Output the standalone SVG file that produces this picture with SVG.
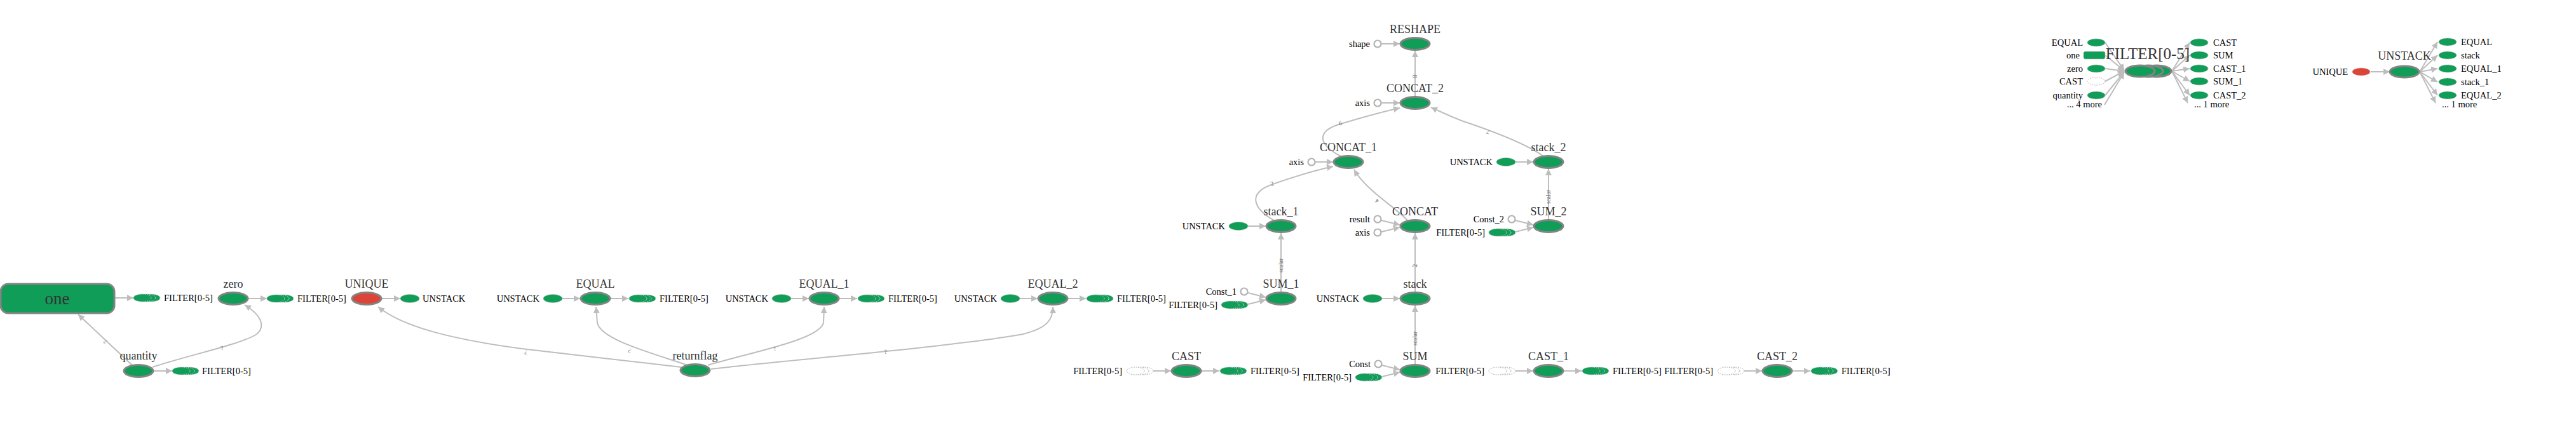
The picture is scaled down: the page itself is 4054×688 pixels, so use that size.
<svg xmlns="http://www.w3.org/2000/svg" xmlns:xlink="http://www.w3.org/1999/xlink" width="4054" height="688" viewBox="0 0 4054 688">
<style>
.op{fill:#0f9d58;stroke:#848484;stroke-width:3}
.red{fill:#db4437}
.at{fill:#0f9d58;stroke:#bdbdbd;stroke-width:1;stroke-dasharray:2 1.5}
.atr{fill:#db4437;stroke:#bdbdbd;stroke-width:1;stroke-dasharray:2 1.5}
.atw{fill:#fff;stroke:#b5b5b5;stroke-width:1;stroke-dasharray:2 1.5}
.cst{fill:#fff;stroke:#b3b3b3;stroke-width:2.2}
.e{fill:none;stroke:#bdbdbd;stroke-width:2;marker-end:url(#ah)}
text{font-family:"Liberation Serif","Times New Roman",serif}
.nl{font-size:18px;fill:#333;text-anchor:middle}
.sl{font-size:14.5px;fill:#000}
.r{text-anchor:end}
.el{font-size:9.5px;fill:#666;text-anchor:middle}
</style>
<defs>
<marker id="ah" viewBox="0 0 10 10" refX="10" refY="5" markerWidth="10" markerHeight="10" markerUnits="userSpaceOnUse" orient="auto"><path d="M0,0 L10,5 L0,10 z" fill="#bdbdbd"/></marker>
<g id="stk"><ellipse cx="14" cy="0" rx="14" ry="6" fill="#0f9d58" stroke="#d0d0d0" stroke-width="1" stroke-dasharray="2 1.5"/><ellipse cx="7" cy="0" rx="14" ry="6" fill="#0f9d58" stroke="#d0d0d0" stroke-width="1" stroke-dasharray="2 1.5"/><ellipse cx="0" cy="0" rx="14" ry="6" fill="#0f9d58" stroke="#bdbdbd" stroke-width="1" stroke-dasharray="2 1.5"/></g>
<g id="stkw"><ellipse cx="14" cy="0" rx="14" ry="6" fill="#fff" stroke="#b5b5b5" stroke-width="1" stroke-dasharray="2 1.5"/><ellipse cx="7" cy="0" rx="14" ry="6" fill="#fff" stroke="#b5b5b5" stroke-width="1" stroke-dasharray="2 1.5"/><ellipse cx="0" cy="0" rx="14" ry="6" fill="#fff" stroke="#b5b5b5" stroke-width="1" stroke-dasharray="2 1.5"/></g>
</defs>
<rect width="4054" height="688" fill="#fff"/>

<g id="connectors">
<path class="e" d="M181,469 L210,469"/>
<path class="e" d="M391,470 L420,470"/>
<path class="e" d="M601,470 L630,470"/>
<path class="e" d="M242,584 L271,584"/>
<path class="e" d="M208,575 L123,495"/>
<path class="e" d="M240,578 C300,558 380,542 404,526 C420,512 408,494 385,480"/>
<path class="e" d="M1072,578 C1000,570 900,558 830,550 C720,536 635,516 595,483"/>
<path class="e" d="M1082,575 C1030,557 945,535 940,508 L938,483"/>
<path class="e" d="M1114,575 C1180,555 1290,535 1296,508 L1297,483"/>
<path class="e" d="M1119,581 C1250,566 1500,546 1610,526 C1650,516 1657,502 1657,483"/>
<path class="e" d="M885,470 L913,470"/>
<path class="e" d="M961,470 L989,470"/>
<path class="e" d="M1245,470 L1273,470"/>
<path class="e" d="M1321,470 L1349,470"/>
<path class="e" d="M1605,470 L1633,470"/>
<path class="e" d="M1681,470 L1709,470"/>
<path class="e" d="M1815,584 L1843,584"/>
<path class="e" d="M1891,584 L1919,584"/>
<path class="e" d="M2385,584 L2413,584"/>
<path class="e" d="M2461,584 L2489,584"/>
<path class="e" d="M2745,584 L2773,584"/>
<path class="e" d="M2821,584 L2849,584"/>
<path class="e" d="M2175,575 L2203,582"/>
<path class="e" d="M2175,593 L2203,586"/>
<path class="e" d="M1964,461 L1992,468"/>
<path class="e" d="M1964,479 L1992,472"/>
<path class="e" d="M2385,347 L2413,354"/>
<path class="e" d="M2385,365 L2413,358"/>
<path class="e" d="M2174,347 L2203,354"/>
<path class="e" d="M2174,365 L2203,358"/>
<path class="e" d="M1964,356 L1992,356"/>
<path class="e" d="M2175,470 L2203,470"/>
<path class="e" d="M2385,255 L2413,255"/>
<path class="e" d="M2070,255 L2098,255"/>
<path class="e" d="M2174,162 L2203,162"/>
<path class="e" d="M2174,69 L2203,69"/>
<path class="e" d="M2016,460 L2016,367"/>
<path class="e" d="M2227,574 L2227,481"/>
<path class="e" d="M2227,460 L2227,367"/>
<path class="e" d="M2437,346 L2437,266"/>
<path class="e" d="M2227,152 L2227,80"/>
<path class="e" d="M2005,347 C1975,330 1960,305 2003,290 C2040,277 2070,268 2098,262"/>
<path class="e" d="M2215,347 C2195,325 2150,300 2131,267"/>
<path class="e" d="M2110,246 C2070,225 2075,205 2110,195 C2150,183 2180,175 2203,170"/>
<path class="e" d="M2429,246 C2400,225 2345,205 2300,190 C2280,182 2265,175 2252,169"/>
<path class="e" d="M3313,67 L3343,111"/>
<path class="e" d="M3313,87 L3343,111"/>
<path class="e" d="M3313,108 L3343,112"/>
<path class="e" d="M3313,128 L3343,112"/>
<path class="e" d="M3313,150 L3343,113"/>
<path class="e" d="M3312,165 L3343,114"/>
<path class="e" d="M3418,112 L3446,67"/>
<path class="e" d="M3418,112 L3446,87"/>
<path class="e" d="M3418,112 L3446,108"/>
<path class="e" d="M3418,112 L3446,128"/>
<path class="e" d="M3418,112 L3446,150"/>
<path class="e" d="M3418,112 L3443,162"/>
<path class="e" d="M3731,113 L3761,113"/>
<path class="e" d="M3808,113 L3836,66"/>
<path class="e" d="M3808,113 L3836,87"/>
<path class="e" d="M3808,113 L3836,108"/>
<path class="e" d="M3808,113 L3836,129"/>
<path class="e" d="M3808,113 L3836,150"/>
<path class="e" d="M3808,113 L3833,162"/>
<text class="el" transform="translate(168,536) rotate(-137)">?</text>
<text class="el" transform="translate(350,551) rotate(-15)">?</text>
<text class="el" transform="translate(828,552) rotate(-173)">?</text>
<text class="el" transform="translate(992,549) rotate(-158)">?</text>
<text class="el" transform="translate(1220,552) rotate(-20)">?</text>
<text class="el" transform="translate(1394,557) rotate(-7)">?</text>
<text class="el" transform="translate(2019,418) rotate(-90)">scalar</text>
<text class="el" transform="translate(2230,533) rotate(-90)">scalar</text>
<text class="el" transform="translate(2230,418) rotate(-90)">2</text>
<text class="el" transform="translate(2440,310) rotate(-90)">scalar</text>
<text class="el" transform="translate(2230,120) rotate(-90)">8</text>
<text class="el" transform="translate(2003,292) rotate(-18)">2</text>
<text class="el" transform="translate(2169,314) rotate(-143)">4</text>
<text class="el" transform="translate(2110,197) rotate(-17)">6</text>
<text class="el" transform="translate(2343,205) rotate(-157)">7</text>
</g>

<g id="node-one"><rect x="1" y="447" width="179" height="46" rx="12" class="op"/><text x="90" y="479" font-size="27" fill="#333" text-anchor="middle">one</text></g>
<g id="node-one-out"><use xlink:href="#stk" x="224" y="469"/><text class="sl" x="258" y="474">FILTER[0-5]</text></g>
<g id="node-zero"><ellipse cx="367" cy="470" rx="23" ry="9.5" class="op"/><text class="nl" x="367" y="453">zero</text></g>
<g id="node-zero-out"><use xlink:href="#stk" x="434" y="470"/><text class="sl" x="468" y="475">FILTER[0-5]</text></g>
<g id="node-unique"><ellipse cx="577" cy="470" rx="23" ry="9.5" class="op red"/><text class="nl" x="577" y="453">UNIQUE</text></g>
<g id="node-unique-out"><ellipse cx="645" cy="470" rx="15" ry="6.5" class="at"/><text class="sl" x="665" y="475">UNSTACK</text></g>
<g id="node-quantity"><ellipse cx="218" cy="584" rx="23" ry="9.5" class="op"/><text class="nl" x="218" y="566">quantity</text></g>
<g id="node-quantity-out"><use xlink:href="#stk" x="285" y="584"/><text class="sl" x="318" y="589">FILTER[0-5]</text></g>
<g id="node-returnflag"><ellipse cx="1094" cy="583" rx="23" ry="9.5" class="op"/><text class="nl" x="1094" y="566">returnflag</text></g>

<g id="node-equal"><ellipse cx="937" cy="470" rx="23" ry="9.5" class="op"/><text class="nl" x="937" y="453">EQUAL</text></g>
<g id="node-equal-in"><ellipse cx="870" cy="470" rx="15" ry="6.5" class="at"/><text class="sl r" x="849" y="475">UNSTACK</text></g>
<g id="node-equal-out"><use xlink:href="#stk" x="1004" y="470"/><text class="sl" x="1038" y="475">FILTER[0-5]</text></g>
<g id="node-equal1"><ellipse cx="1297" cy="470" rx="23" ry="9.5" class="op"/><text class="nl" x="1297" y="453">EQUAL_1</text></g>
<g id="node-equal1-in"><ellipse cx="1230" cy="470" rx="15" ry="6.5" class="at"/><text class="sl r" x="1209" y="475">UNSTACK</text></g>
<g id="node-equal1-out"><use xlink:href="#stk" x="1364" y="470"/><text class="sl" x="1398" y="475">FILTER[0-5]</text></g>
<g id="node-equal2"><ellipse cx="1657" cy="470" rx="23" ry="9.5" class="op"/><text class="nl" x="1657" y="453">EQUAL_2</text></g>
<g id="node-equal2-in"><ellipse cx="1590" cy="470" rx="15" ry="6.5" class="at"/><text class="sl r" x="1569" y="475">UNSTACK</text></g>
<g id="node-equal2-out"><use xlink:href="#stk" x="1724" y="470"/><text class="sl" x="1758" y="475">FILTER[0-5]</text></g>

<g id="node-cast"><ellipse cx="1867" cy="584" rx="23" ry="9.5" class="op"/><text class="nl" x="1867" y="567">CAST</text></g>
<g id="node-cast-in"><use xlink:href="#stkw" x="1787" y="584"/><text class="sl r" x="1766" y="589">FILTER[0-5]</text></g>
<g id="node-cast-out"><use xlink:href="#stk" x="1934" y="584"/><text class="sl" x="1968" y="589">FILTER[0-5]</text></g>
<g id="node-sum"><ellipse cx="2227" cy="584" rx="23" ry="9.5" class="op"/><text class="nl" x="2227" y="567">SUM</text></g>
<g id="node-sum-const"><circle cx="2169" cy="573" r="5.5" class="cst"/><text class="sl r" x="2157" y="578">Const</text></g>
<g id="node-sum-in"><use xlink:href="#stk" x="2147" y="594"/><text class="sl r" x="2127" y="599">FILTER[0-5]</text></g>
<g id="node-cast1"><ellipse cx="2437" cy="584" rx="23" ry="9.5" class="op"/><text class="nl" x="2437" y="567">CAST_1</text></g>
<g id="node-cast1-in"><use xlink:href="#stkw" x="2357" y="584"/><text class="sl r" x="2336" y="589">FILTER[0-5]</text></g>
<g id="node-cast1-out"><use xlink:href="#stk" x="2504" y="584"/><text class="sl" x="2538" y="589">FILTER[0-5]</text></g>
<g id="node-cast2"><ellipse cx="2797" cy="584" rx="23" ry="9.5" class="op"/><text class="nl" x="2797" y="567">CAST_2</text></g>
<g id="node-cast2-in"><use xlink:href="#stkw" x="2717" y="584"/><text class="sl r" x="2696" y="589">FILTER[0-5]</text></g>
<g id="node-cast2-out"><use xlink:href="#stk" x="2864" y="584"/><text class="sl" x="2898" y="589">FILTER[0-5]</text></g>

<g id="node-sum1"><ellipse cx="2016" cy="470" rx="23" ry="9.5" class="op"/><text class="nl" x="2016" y="453">SUM_1</text></g>
<g id="node-sum1-const"><circle cx="1958" cy="459" r="5.5" class="cst"/><text class="sl r" x="1946" y="464">Const_1</text></g>
<g id="node-sum1-in"><use xlink:href="#stk" x="1936" y="480"/><text class="sl r" x="1916" y="485">FILTER[0-5]</text></g>
<g id="node-stack"><ellipse cx="2227" cy="470" rx="23" ry="9.5" class="op"/><text class="nl" x="2227" y="453">stack</text></g>
<g id="node-stack-in"><ellipse cx="2160" cy="470" rx="15" ry="6.5" class="at"/><text class="sl r" x="2139" y="475">UNSTACK</text></g>

<g id="node-stack1"><ellipse cx="2016" cy="356" rx="23" ry="9.5" class="op"/><text class="nl" x="2016" y="339">stack_1</text></g>
<g id="node-stack1-in"><ellipse cx="1949" cy="356" rx="15" ry="6.5" class="at"/><text class="sl r" x="1928" y="361">UNSTACK</text></g>
<g id="node-concat"><ellipse cx="2227" cy="356" rx="23" ry="9.5" class="op"/><text class="nl" x="2227" y="339">CONCAT</text></g>
<g id="node-concat-result"><circle cx="2168" cy="345" r="5.5" class="cst"/><text class="sl r" x="2156" y="350">result</text></g>
<g id="node-concat-axis"><circle cx="2168" cy="366" r="5.5" class="cst"/><text class="sl r" x="2156" y="371">axis</text></g>
<g id="node-sum2"><ellipse cx="2437" cy="356" rx="23" ry="9.5" class="op"/><text class="nl" x="2437" y="339">SUM_2</text></g>
<g id="node-sum2-const"><circle cx="2379" cy="345" r="5.5" class="cst"/><text class="sl r" x="2367" y="350">Const_2</text></g>
<g id="node-sum2-in"><use xlink:href="#stk" x="2357" y="366"/><text class="sl r" x="2337" y="371">FILTER[0-5]</text></g>

<g id="node-concat1"><ellipse cx="2122" cy="255" rx="23" ry="9.5" class="op"/><text class="nl" x="2122" y="238">CONCAT_1</text></g>
<g id="node-concat1-axis"><circle cx="2064" cy="255" r="5.5" class="cst"/><text class="sl r" x="2052" y="260">axis</text></g>
<g id="node-stack2"><ellipse cx="2437" cy="255" rx="23" ry="9.5" class="op"/><text class="nl" x="2437" y="238">stack_2</text></g>
<g id="node-stack2-in"><ellipse cx="2370" cy="255" rx="15" ry="6.5" class="at"/><text class="sl r" x="2349" y="260">UNSTACK</text></g>
<g id="node-concat2"><ellipse cx="2227" cy="162" rx="23" ry="9.5" class="op"/><text class="nl" x="2227" y="145">CONCAT_2</text></g>
<g id="node-concat2-axis"><circle cx="2168" cy="162" r="5.5" class="cst"/><text class="sl r" x="2156" y="167">axis</text></g>
<g id="node-reshape"><ellipse cx="2227" cy="69" rx="23" ry="9.5" class="op"/><text class="nl" x="2227" y="52">RESHAPE</text></g>
<g id="node-reshape-shape"><circle cx="2168" cy="69" r="5.5" class="cst"/><text class="sl r" x="2156" y="74">shape</text></g>

<g id="series-filter">
<ellipse cx="3394" cy="112" rx="23" ry="9" class="op"/>
<ellipse cx="3381" cy="112" rx="23" ry="9" class="op"/>
<ellipse cx="3368" cy="112" rx="23" ry="9" class="op"/>
<text x="3380" y="93" font-size="25" fill="#333" text-anchor="middle">FILTER[0-5]</text>
</g>
<g id="series-filter-inputs">
<ellipse cx="3299" cy="67" rx="14" ry="6" class="at"/><text class="sl r" x="3278" y="72">EQUAL</text>
<rect x="3279" y="81" width="34" height="12" rx="3" class="at"/><text class="sl r" x="3273" y="92">one</text>
<ellipse cx="3299" cy="108" rx="14" ry="6" class="at"/><text class="sl r" x="3278" y="113">zero</text>
<ellipse cx="3299" cy="128" rx="14" ry="6" class="atw"/><text class="sl r" x="3278" y="133">CAST</text>
<ellipse cx="3299" cy="150" rx="14" ry="6" class="at"/><text class="sl r" x="3278" y="155">quantity</text>
<text class="sl r" x="3308" y="169">... 4 more</text>
</g>
<g id="series-filter-outputs">
<ellipse cx="3461" cy="67" rx="14" ry="6" class="at"/><text class="sl" x="3483" y="72">CAST</text>
<ellipse cx="3461" cy="87" rx="14" ry="6" class="at"/><text class="sl" x="3483" y="92">SUM</text>
<ellipse cx="3461" cy="108" rx="14" ry="6" class="at"/><text class="sl" x="3483" y="113">CAST_1</text>
<ellipse cx="3461" cy="128" rx="14" ry="6" class="at"/><text class="sl" x="3483" y="133">SUM_1</text>
<ellipse cx="3461" cy="150" rx="14" ry="6" class="at"/><text class="sl" x="3483" y="155">CAST_2</text>
<text class="sl" x="3453" y="169">... 1 more</text>
</g>

<g id="series-unstack">
<ellipse cx="3784" cy="113" rx="23" ry="9" class="op"/>
<text class="nl" x="3784" y="94">UNSTACK</text>
</g>
<g id="series-unstack-input"><ellipse cx="3716" cy="113" rx="14" ry="6" class="atr"/><text class="sl r" x="3695" y="118">UNIQUE</text></g>
<g id="series-unstack-outputs">
<ellipse cx="3852" cy="66" rx="14" ry="6" class="at"/><text class="sl" x="3873" y="71">EQUAL</text>
<ellipse cx="3852" cy="87" rx="14" ry="6" class="at"/><text class="sl" x="3873" y="92">stack</text>
<ellipse cx="3852" cy="108" rx="14" ry="6" class="at"/><text class="sl" x="3873" y="113">EQUAL_1</text>
<ellipse cx="3852" cy="129" rx="14" ry="6" class="at"/><text class="sl" x="3873" y="134">stack_1</text>
<ellipse cx="3852" cy="150" rx="14" ry="6" class="at"/><text class="sl" x="3873" y="155">EQUAL_2</text>
<text class="sl" x="3843" y="169">... 1 more</text>
</g>
</svg>
